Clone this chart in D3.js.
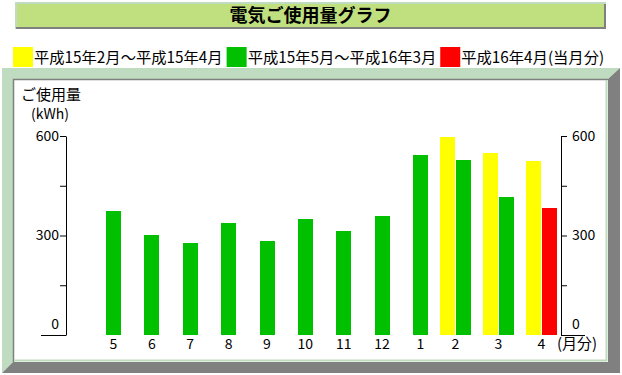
<!DOCTYPE html>
<html>
<head>
<meta charset="utf-8">
<script src="https://cdn.jsdelivr.net/npm/d3@7"></script>
<style>
  html, body { margin: 0; padding: 0; background: #fff; }
  svg { display: block; font-family: "Noto Sans CJK JP", sans-serif; }
</style>
</head>
<body>
<div id="chart"></div>
<script>
// 平成15年5月〜平成16年4月 (当月分は最後)
const months = ['5', '6', '7', '8', '9', '10', '11', '12', '1', '2', '3', '4'];
const usage = [374, 301, 277, 338, 283, 350, 314, 359, 543, 528, 416, 383];
// 前年同月 (平成15年2月〜4月)
const prevMonths = ['2', '3', '4'];
const prevUsage = [598, 549, 525];

const legendLabels = ['平成15年2月～平成15年4月', '平成15年5月～平成16年3月', '平成16年4月(当月分)'];
const legendColors = ['#ffff00', '#00c000', '#ff0000'];
const yTicks = [0, 150, 300, 450, 600];
const yLabels = [0, 300, 600];

const title = '電気ご使用量グラフ';

const W = 622, H = 375;
const LIGHT = '#c0dcc0', DARK = '#808080';

const svg = d3.select('#chart').append('svg')
  .attr('width', W)
  .attr('height', H)
  .attr('viewBox', `0 0 ${W} ${H}`);

// title box
const tb = {x0: 15, y0: 2, x1: 606, y1: 29};
svg.append('rect')
  .attr('x', tb.x0).attr('y', tb.y0)
  .attr('width', tb.x1 - tb.x0).attr('height', tb.y1 - tb.y0)
  .attr('fill', '#c0e080');
svg.append('path')
  .attr('d', `M${tb.x0 + 1},${tb.y1}V${tb.y0 + 1}H${tb.x1}`)
  .attr('fill', 'none').attr('stroke', LIGHT).attr('stroke-width', 2);
svg.append('path')
  .attr('d', `M${tb.x0 + 1},${tb.y1 - 1}H${tb.x1 - 1}V${tb.y0 + 2}`)
  .attr('fill', 'none').attr('stroke', DARK).attr('stroke-width', 2);
svg.append('text')
  .attr('x', (tb.x0 + tb.x1) / 2)
  .attr('y', 22)
  .attr('text-anchor', 'middle')
  .attr('font-size', 18)
  .attr('font-weight', 'bold')
  .text(title);

// legend
let lx = 13;
legendLabels.forEach((label, i) => {
  svg.append('rect')
    .attr('x', lx).attr('y', 47)
    .attr('width', 20).attr('height', 20)
    .attr('fill', legendColors[i]);
  const t = svg.append('text')
    .attr('x', lx + 21)
    .attr('y', 63)
    .attr('font-size', 15.3)
    .text(label);
  lx += 21 + t.node().getComputedTextLength() + 4;
});

// bevelled panel
const po = {x0: 2, y0: 68, x1: 620, y1: 373};
const pi = {x0: 13, y0: 79, x1: 608, y1: 362};
svg.append('polygon')
  .attr('points', [[po.x0, po.y0], [po.x1, po.y0], [pi.x1, pi.y0], [pi.x0, pi.y0], [pi.x0, pi.y1], [po.x0, po.y1]].join(' '))
  .attr('fill', LIGHT);
svg.append('polygon')
  .attr('points', [[po.x1, po.y0], [po.x1, po.y1], [po.x0, po.y1], [pi.x0, pi.y1], [pi.x1, pi.y1], [pi.x1, pi.y0]].join(' '))
  .attr('fill', DARK);
svg.append('rect')
  .attr('x', pi.x0).attr('y', pi.y0)
  .attr('width', pi.x1 - pi.x0).attr('height', pi.y1 - pi.y0)
  .attr('fill', '#fff');
svg.append('path')
  .attr('d', `M${pi.x0 + 0.5},${pi.y1}V${pi.y0 + 0.5}H${pi.x1}`)
  .attr('fill', 'none').attr('stroke', DARK).attr('stroke-width', 1.5);
svg.append('path')
  .attr('d', `M${pi.x0 + 1},${pi.y1 - 1.5}H${pi.x1 - 1.5}V${pi.y0 + 1}`)
  .attr('fill', 'none').attr('stroke', LIGHT).attr('stroke-width', 2);

// scales
const y = d3.scaleLinear().domain([0, 600]).range([335, 136]);

const singleMonths = months.filter(m => !prevMonths.includes(m));
const xSingle = d3.scaleBand()
  .domain(singleMonths)
  .range([106, 428])
  .paddingInner(1 - 15 / 38.375)
  .paddingOuter(0);
const xPair = d3.scaleBand()
  .domain(prevMonths)
  .range([440, 557])
  .paddingInner(12 / 43)
  .paddingOuter(0);
const xInner = d3.scaleBand()
  .domain(['prev', 'cur'])
  .range([0, xPair.bandwidth()])
  .paddingInner(1 / 16);

const bars = [];
months.forEach((m, i) => {
  const last = i === months.length - 1;
  if (prevMonths.includes(m)) {
    const j = prevMonths.indexOf(m);
    bars.push({m, v: prevUsage[j], x: xPair(m) + xInner('prev'), w: xInner.bandwidth(), c: legendColors[0]});
    bars.push({m, v: usage[i], x: xPair(m) + xInner('cur'), w: xInner.bandwidth(), c: last ? legendColors[2] : legendColors[1]});
  } else {
    bars.push({m, v: usage[i], x: xSingle(m), w: xSingle.bandwidth(), c: legendColors[1]});
  }
});

svg.append('g')
  .selectAll('rect')
  .data(bars)
  .join('rect')
  .attr('x', d => d.x)
  .attr('y', d => y(d.v))
  .attr('width', d => d.w)
  .attr('height', d => y(0) - y(d.v))
  .attr('fill', d => d.c)
  .attr('shape-rendering', 'crispEdges');

// month labels
const centerOf = m => prevMonths.includes(m)
  ? xPair(m) + xPair.bandwidth() / 2
  : xSingle(m) + xSingle.bandwidth() / 2;
svg.append('g')
  .selectAll('text')
  .data(months)
  .join('text')
  .attr('x', d => centerOf(d))
  .attr('y', 349)
  .attr('text-anchor', 'middle')
  .attr('font-size', 14)
  .text(d => d);
svg.append('text')
  .attr('x', 557)
  .attr('y', 349)
  .attr('font-size', 15)
  .text('(月分)');

// y axes
function styleAxis(g, side) {
  g.select('.domain').attr('stroke', '#000');
  g.selectAll('.tick line').attr('stroke', '#000');
  g.selectAll('.tick text')
    .attr('fill', '#000')
    .attr('font-size', 14)
    .attr('font-family', '"Noto Sans CJK JP", sans-serif');
  // zero: long base line and label lifted above it
  const zero = g.selectAll('.tick').filter(d => d === 0);
  zero.select('line').attr('x2', side === 'left' ? -25 : 24);
  zero.select('text').attr('y', -11);
}

const fmt = d => yLabels.includes(d) ? d : '';

svg.append('g')
  .attr('transform', 'translate(66,0)')
  .call(d3.axisLeft(y).tickValues(yTicks).tickFormat(fmt).tickSize(6).tickSizeOuter(0).tickPadding(1))
  .call(g => styleAxis(g, 'left'));

svg.append('g')
  .attr('transform', 'translate(561,0)')
  .call(d3.axisRight(y).tickValues(yTicks).tickFormat(fmt).tickSize(6).tickSizeOuter(0).tickPadding(5))
  .call(g => styleAxis(g, 'right'));

// y-axis title
svg.append('text')
  .attr('x', 21)
  .attr('y', 100)
  .attr('font-size', 15)
  .text('ご使用量');
svg.append('text')
  .attr('x', 31)
  .attr('y', 119)
  .attr('font-size', 14)
  .text('(kWh)');
</script>
</body>
</html>
